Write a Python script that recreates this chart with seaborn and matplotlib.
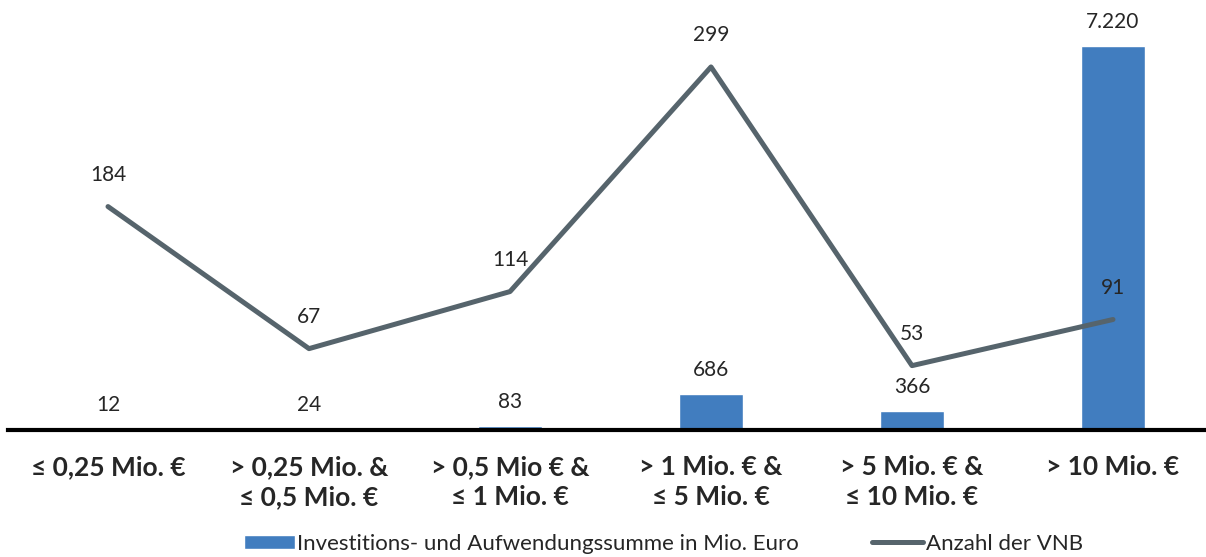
import numpy as np
import pandas as pd
import matplotlib.pyplot as plt
import seaborn as sns

categories = ['≤ 0,25 Mio. €', '> 0,25 Mio. &\n≤ 0,5 Mio. €', '> 0,5 Mio € &\n≤ 1 Mio. €',
              '> 1 Mio. € &\n≤ 5 Mio. €', '> 5 Mio. € &\n≤ 10 Mio. €', '> 10 Mio. €']
summe = [12, 24, 83, 686, 366, 7220]
anzahl_vnb = [184, 67, 114, 299, 53, 91]

bar_label = 'Investitions- und Aufwendungssumme in Mio. Euro'
line_label = 'Anzahl der VNB'

sns.set_theme(style="white")
plt.rcParams['font.family'] = ['Lato', 'DejaVu Sans']

bar_color = '#417dbf'
line_color = '#56646c'

fig = plt.figure(figsize=(12.06, 5.57), dpi=100)
ax = fig.add_axes([7.5 / 1206, 1 - 430 / 557, 1.0, 425 / 557])

df = pd.DataFrame({'Kategorie': categories, 'Summe': summe})
sns.barplot(data=df, x='Kategorie', y='Summe', color=bar_color, width=0.32,
            saturation=1, ax=ax, label=bar_label)
ax.set_ylim(0, 8000)
ax.set_xlim(-0.5, 5.5)
ax.set_yticks([])
ax.set_xlabel('')
ax.set_ylabel('')
for s in ['top', 'right', 'left']:
    ax.spines[s].set_visible(False)
ax.spines['bottom'].set_color('black')
ax.spines['bottom'].set_linewidth(3)
ax.tick_params(axis='x', length=0, pad=18)
for t in ax.get_xticklabels():
    t.set_fontsize(19)
    t.set_fontweight('bold')
    t.set_linespacing(1.3)
    t.set_verticalalignment('top')

for i, v in enumerate(summe):
    ax.annotate(f'{v:,}'.replace(',', '.'), (i, v), xytext=(0, 14),
                textcoords='offset pixels', ha='center', va='bottom', fontsize=15)

ax2 = ax.twinx()
sns.lineplot(x=np.arange(len(anzahl_vnb)), y=anzahl_vnb, color=line_color,
             linewidth=3.6, ax=ax2, label=line_label, legend=False)
ax2.set_ylim(0, 350)
ax2.set_yticks([])
for s in ['top', 'right', 'left', 'bottom']:
    ax2.spines[s].set_visible(False)
for i, v in enumerate(anzahl_vnb):
    ax2.annotate(str(v), (i, v), xytext=(0, 32), textcoords='offset pixels',
                 ha='center', va='center', fontsize=15)

h1, l1 = ax.get_legend_handles_labels()
h2, l2 = ax2.get_legend_handles_labels()
if ax.get_legend():
    ax.get_legend().remove()
fig.legend(h1 + h2, l1 + l2, loc='lower center', bbox_to_anchor=(0.55, -0.03), ncol=2,
           frameon=False, fontsize=16, handlelength=2.3, handleheight=0.6,
           handletextpad=0.1, columnspacing=3.3)

fig.savefig('out.png', dpi=100)
